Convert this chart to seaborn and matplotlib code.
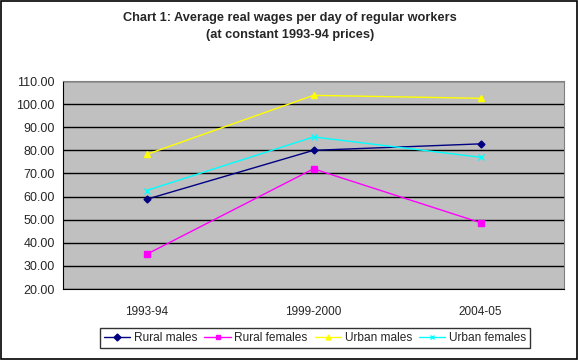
import matplotlib
matplotlib.use("Agg")
import matplotlib.pyplot as plt
import seaborn as sns
import pandas as pd
from matplotlib.ticker import FixedLocator, FormatStrFormatter
from matplotlib.lines import Line2D

periods = ["1993-94", "1999-2000", "2004-05"]
rural_males = [58.8, 80.0, 82.8]
rural_females = [35.0, 72.0, 48.7]
urban_males = [78.2, 103.8, 102.5]
urban_females = [62.6, 85.8, 77.0]

series = {
    "Rural males": rural_males,
    "Rural females": rural_females,
    "Urban males": urban_males,
    "Urban females": urban_females,
}

sns.set_style("white")
plt.rcParams['font.family'] = ['Liberation Sans', 'DejaVu Sans']

fig = plt.figure(figsize=(5.78, 3.6), dpi=100)
ax = fig.add_axes([63/578, 1 - 289/360, (564-63)/578, (289-81)/360])

palette = {"Rural males": "#000080", "Rural females": "#FF00FF",
           "Urban males": "#FFFF00", "Urban females": "#00FFFF"}
markers = {"Rural males": "D", "Rural females": "s",
           "Urban males": "^", "Urban females": "x"}
msizes = {"Rural males": 3.5, "Rural females": 4.2, "Urban males": 4.5, "Urban females": 4.5}

for name, vals in series.items():
    d = pd.DataFrame({"pos": list(range(len(periods))), "wage": vals})
    sns.lineplot(data=d, x="pos", y="wage", color=palette[name], marker=markers[name],
                 markersize=msizes[name], markeredgecolor=palette[name], markeredgewidth=1,
                 linewidth=1, ax=ax)

ax.set_facecolor("#C0C0C0")
ax.set_xlim(-0.5, 2.5)
ax.set_ylim(20, 110)
ax.set_yticks(range(20, 111, 10))
ax.yaxis.set_major_formatter(FormatStrFormatter("%.2f"))
ax.grid(axis="y", color="black", linewidth=1)
ax.set_axisbelow(True)
ax.set_xticks(range(len(periods)))
ax.set_xticklabels(periods)
ax.xaxis.set_minor_locator(FixedLocator([0.5, 1.5]))
ax.tick_params(axis="x", which="major", length=0, pad=12, labelsize=8.5)
ax.tick_params(axis="x", which="minor", length=4, direction="out", color="black")
ax.tick_params(axis="y", length=4, direction="out", labelsize=9, color="black", pad=2)
ax.set_xlabel("")
ax.set_ylabel("")
for side in ["top", "right"]:
    ax.spines[side].set_color("#808080")
for side in ["left", "bottom"]:
    ax.spines[side].set_color("black")

fig.text(290/578, 1 - 18/360, "Chart 1: Average real wages per day of regular workers",
         ha="center", va="center", fontsize=9.2, fontweight="bold")
fig.text(290/578, 1 - 35/360, "(at constant 1993-94 prices)",
         ha="center", va="center", fontsize=9.2, fontweight="bold")

handles = []
for name in series:
    handles.append(Line2D([], [], color=palette[name], marker=markers[name],
                          markersize=3.5, markeredgecolor=palette[name], linewidth=1))
leg = fig.legend(handles, list(series), loc="center", bbox_to_anchor=(315/578, 1 - 338/360),
                 ncol=4, frameon=True, fontsize=8.6, handlelength=2.2, handletextpad=0.3,
                 columnspacing=0.6, borderpad=0.3, fancybox=False)
leg.get_frame().set_edgecolor("black")
leg.get_frame().set_linewidth(1)

fig.patches.append(plt.Rectangle((0.002, 0.003), 0.996, 0.994, transform=fig.transFigure,
                                 fill=False, edgecolor="black", linewidth=1.2))

fig.savefig("out.png", dpi=100)
